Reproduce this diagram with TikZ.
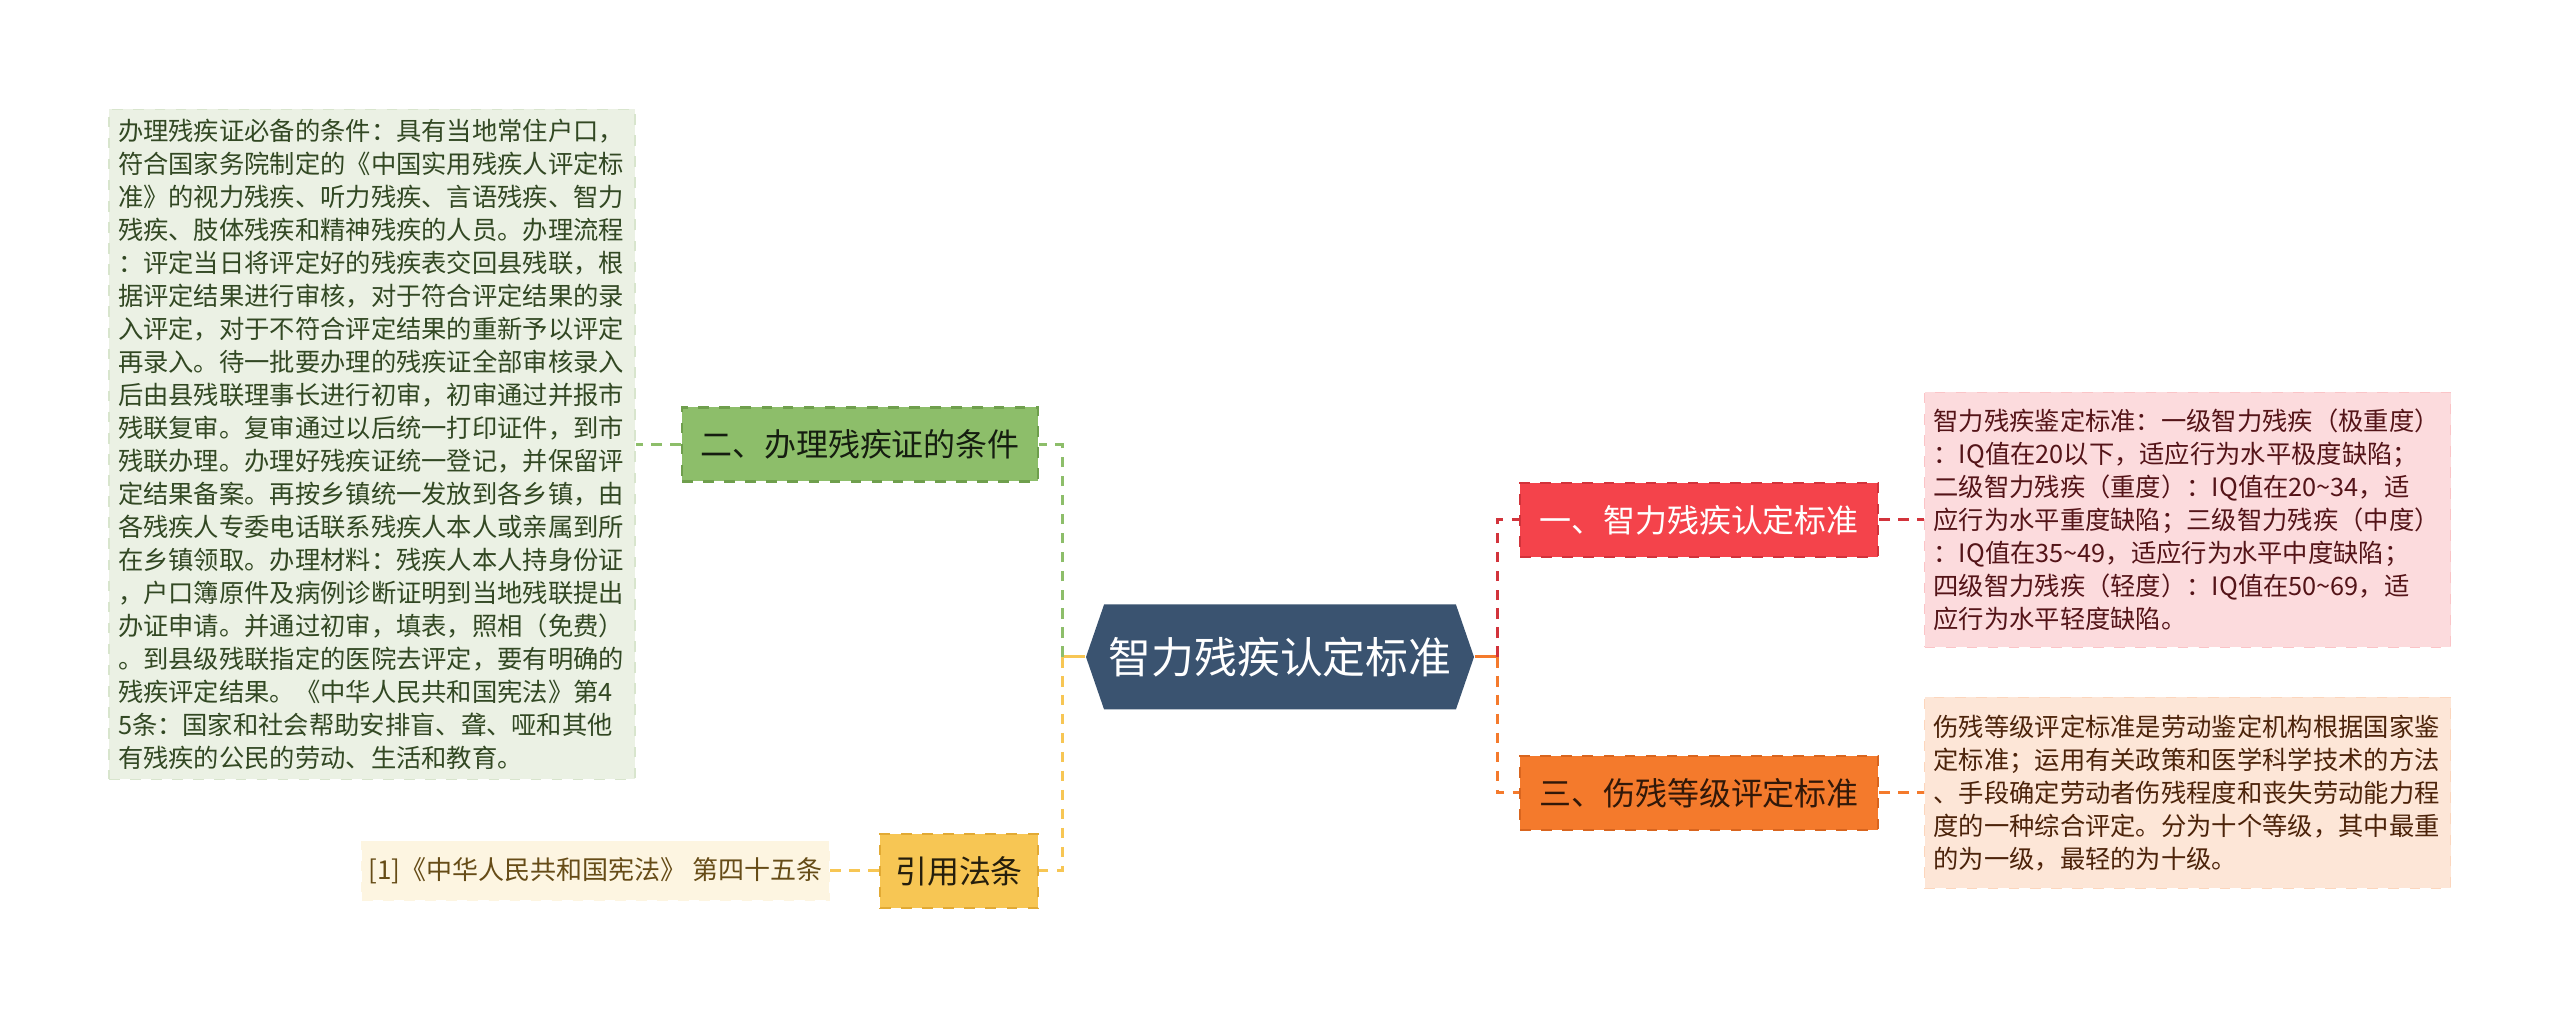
\documentclass[tikz,border=0pt]{standalone}
\usepackage{fontspec}
\setmainfont{Noto Sans CJK SC}
\usetikzlibrary{shapes.symbols}
\definecolor{cRoot}{HTML}{3A5370}
\definecolor{cRed}{HTML}{F4434B}
\definecolor{cRedD}{HTML}{D2333B}
\definecolor{cOrange}{HTML}{F47A2C}
\definecolor{cOrangeD}{HTML}{D9651E}
\definecolor{cGreen}{HTML}{8DBE6A}
\definecolor{cGreenD}{HTML}{6F9F4D}
\definecolor{cYellow}{HTML}{F7C654}
\definecolor{cYellowD}{HTML}{E2AA34}
\definecolor{cGreenBg}{HTML}{EBF1E4}
\definecolor{cPinkBg}{HTML}{FCDBDD}
\definecolor{cPeachBg}{HTML}{FDE6D7}
\definecolor{cCreamBg}{HTML}{FDF5E1}
\tikzset{
  branch/.style={dashed, line width=0.6pt, minimum height=0.74cm, inner sep=0pt,
    font=\fontsize{9.1}{11}\selectfont},
  note/.style={dashed, line width=0.4pt, align=left, text width=5.08cm,
    inner xsep=0.09cm, inner ysep=0.06cm, font=\fontsize{7.2}{9.4}\selectfont},
  link/.style={dash pattern=on 3pt off 2.4pt, line width=0.85pt},
}
\begin{document}
\begin{tikzpicture}
\useasboundingbox[fill=white] (0,0) rectangle (25.6,10.17);
% root
\node[signal, signal to=east and west, signal pointer angle=142, fill=cRoot, text=white,
  minimum width=3.88cm, minimum height=1.05cm, inner sep=0pt,
  font=\fontsize{12.2}{14}\selectfont] (root) at (12.80,3.60) {智力残疾认定标准};
\coordinate (jl) at (10.62,3.60);
\coordinate (jr) at (14.97,3.60);
% right branches
\node[branch, fill=cRed, draw=cRedD, text=white, minimum width=3.58cm] (std) at (16.99,4.97) {一、智力残疾认定标准};
\node[branch, fill=cOrange, draw=cOrangeD, text=black!80!cOrange, minimum width=3.58cm] (inj) at (16.99,2.24) {三、伤残等级评定标准};
\node[note, fill=cPinkBg, draw=cPinkBg!85!cRed, text=cRedD!40!black, minimum height=2.55cm] (stdtxt) at (21.875,4.97) {智力残疾鉴定标准：一级智力残疾（极重度）\\：IQ值在20以下，适应行为水平极度缺陷；\\二级智力残疾（重度）：IQ值在20\textasciitilde34，适\\应行为水平重度缺陷；三级智力残疾（中度）\\：IQ值在35\textasciitilde49，适应行为水平中度缺陷；\\四级智力残疾（轻度）：IQ值在50\textasciitilde69，适\\应行为水平轻度缺陷。};
\node[note, fill=cPeachBg, draw=cPeachBg!85!cOrange, text=cOrangeD!35!black, minimum height=1.91cm] (injtxt) at (21.875,2.24) {伤残等级评定标准是劳动鉴定机构根据国家鉴\\定标准；运用有关政策和医学科学技术的方法\\、手段确定劳动者伤残程度和丧失劳动能力程\\度的一种综合评定。分为十个等级，其中最重\\的为一级，最轻的为十级。};
% left branches
\node[branch, fill=cGreen, draw=cGreenD, text=black!85!cGreen, minimum width=3.56cm] (cond) at (8.60,5.725) {二、办理残疾证的条件};
\node[branch, fill=cYellow, draw=cYellowD, text=black!85!cYellow, minimum width=1.58cm] (law) at (9.59,1.46) {引用法条};
\node[note, fill=cGreenBg, draw=cGreenBg!85!cGreenD, text=cGreenD!45!black, minimum height=6.70cm] (condtxt) at (3.72,5.725) {办理残疾证必备的条件：具有当地常住户口，\\符合国家务院制定的《中国实用残疾人评定标\\准》的视力残疾、听力残疾、言语残疾、智力\\残疾、肢体残疾和精神残疾的人员。办理流程\\：评定当日将评定好的残疾表交回县残联，根\\据评定结果进行审核，对于符合评定结果的录\\入评定，对于不符合评定结果的重新予以评定\\再录入。待一批要办理的残疾证全部审核录入\\后由县残联理事长进行初审，初审通过并报市\\残联复审。复审通过以后统一打印证件，到市\\残联办理。办理好残疾证统一登记，并保留评\\定结果备案。再按乡镇统一发放到各乡镇，由\\各残疾人专委电话联系残疾人本人或亲属到所\\在乡镇领取。办理材料：残疾人本人持身份证\\，户口簿原件及病例诊断证明到当地残联提出\\办证申请。并通过初审，填表，照相（免费）\\。到县级残联指定的医院去评定，要有明确的\\残疾评定结果。《中华人民共和国宪法》第4\\5条：国家和社会帮助安排盲、聋、哑和其他\\有残疾的公民的劳动、生活和教育。};
\node[dashed, line width=0.4pt, fill=cCreamBg, draw=cCreamBg, text=cYellowD!45!black,
  minimum width=4.67cm, minimum height=0.59cm, inner sep=0pt,
  font=\fontsize{7.4}{9}\selectfont] (lawtxt) at (5.955,1.46) {[1]《中华人民共和国宪法》 第四十五条};
% connectors
\draw[line width=0.85pt, cYellow] (root.west) -- (jl);
\draw[line width=0.85pt, cOrange] (root.east) -- (jr);
\draw[link, cGreen] (jl) |- (cond.east);
\draw[link, cYellow] (jl) |- (law.east);
\draw[link, cRedD] (jr) |- (std.west);
\draw[link, cOrange] (jr) |- (inj.west);
\draw[link, cRedD] (std.east) -- (stdtxt.west);
\draw[link, cOrange] (inj.east) -- (injtxt.west);
\draw[link, cGreen] (cond.west) -- (condtxt.east);
\draw[link, cYellow] (law.west) -- (lawtxt.east);
\end{tikzpicture}
\end{document}
